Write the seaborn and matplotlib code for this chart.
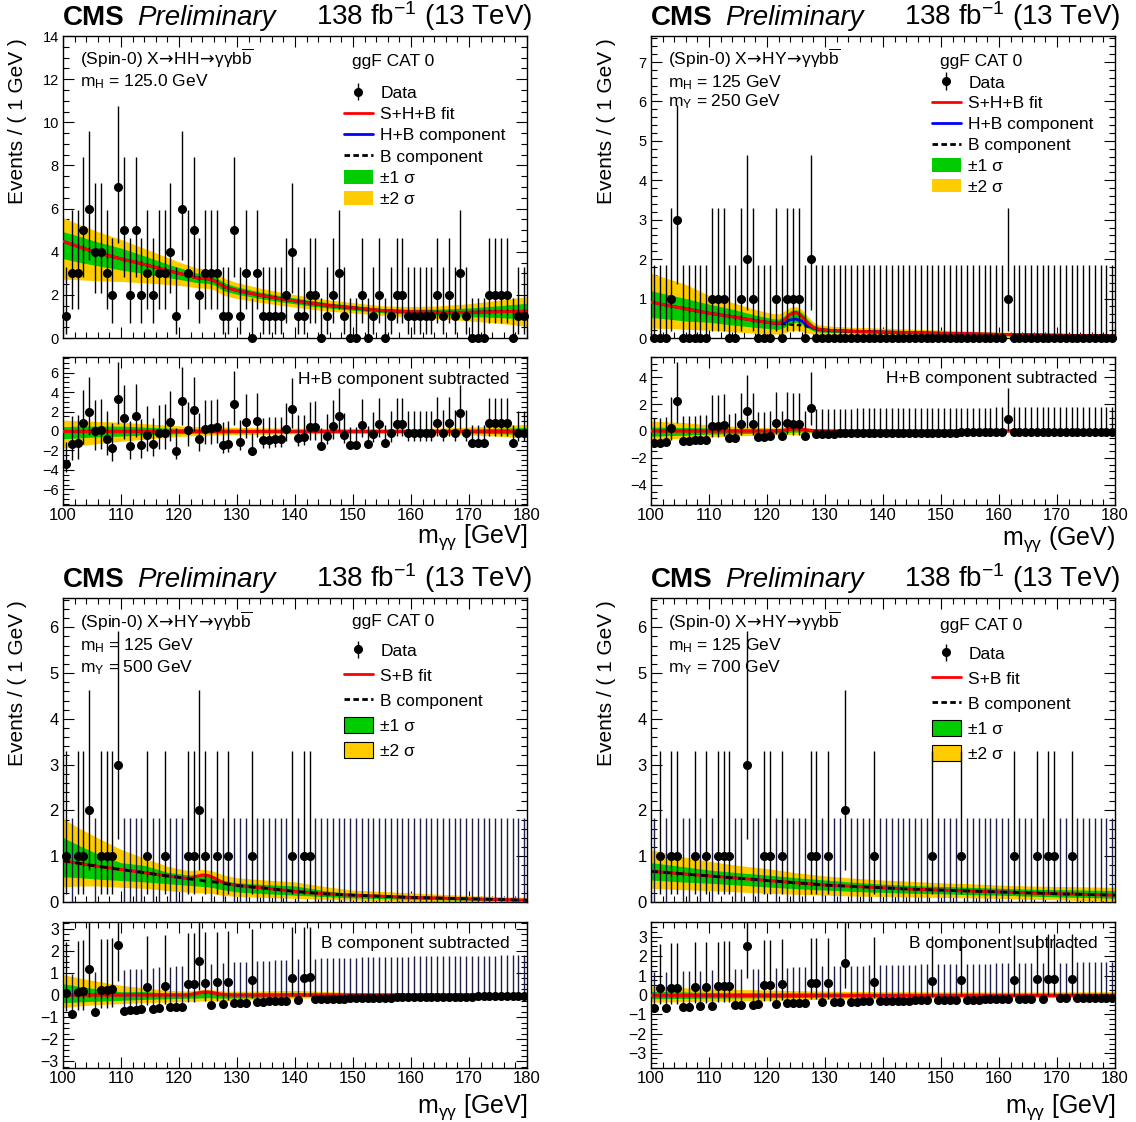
import numpy as np
import matplotlib
matplotlib.use('Agg')
import matplotlib.pyplot as plt
from matplotlib.ticker import MultipleLocator
from matplotlib.lines import Line2D
from matplotlib.patches import Patch
import seaborn as sns

sns.set_style('ticks')
plt.rcParams['font.family'] = ['Liberation Sans', 'DejaVu Sans']
plt.rcParams['mathtext.fontset'] = 'custom'
plt.rcParams['mathtext.rm'] = 'Liberation Sans'
plt.rcParams['mathtext.it'] = 'Liberation Sans:italic'
plt.rcParams['mathtext.bf'] = 'Liberation Sans:bold'
plt.rcParams['mathtext.sf'] = 'DejaVu Sans'
for key in ['text.color', 'axes.labelcolor', 'xtick.color', 'ytick.color', 'axes.edgecolor']:
    plt.rcParams[key] = 'black'

GREEN = '#00cc00'
YELLOW = '#ffcc00'
NAVY = '#1c1e48'
FIG_W, FIG_H = 1136, 1122

# 1 GeV bins between 100 and 180 GeV
mgg = np.arange(100.5, 180.0, 1.0)

# 68% Poisson interval edges for n = 0..7 events
pois_lo = [0.0, 0.173, 0.708, 1.367, 2.086, 2.840, 3.620, 4.419]
pois_hi = [1.841, 3.300, 4.638, 5.918, 7.163, 8.382, 9.584, 10.77]

# ---------------- X -> HH (top left) ----------------
counts_hh = [1, 3, 3, 5, 6, 4, 4, 3, 2, 7, 5, 2, 5, 2, 3, 2, 3, 3, 4, 1,
             6, 3, 5, 2, 3, 3, 3, 1, 1, 5, 1, 3, 0, 3, 1, 1, 1, 1, 2, 4,
             1, 1, 2, 2, 0, 1, 2, 3, 1, 0, 0, 2, 0, 1, 2, 0, 1, 2, 2, 1,
             1, 1, 1, 1, 2, 1, 2, 1, 3, 1, 0, 0, 0, 2, 2, 2, 2, 0, 1, 1]
knots_hh = [100, 103, 106, 110, 114, 118, 121, 123, 125, 126, 127, 128,
            130, 134, 138, 142, 146, 150, 155, 160, 165, 170, 175, 180]
fit_hh = [4.48, 4.2, 3.95, 3.67, 3.41, 3.13, 2.93, 2.79, 2.74, 2.67, 2.5, 2.35,
          2.2, 1.98, 1.8, 1.64, 1.5, 1.4, 1.27, 1.22, 1.19, 1.19, 1.22, 1.24]
hb_hh = fit_hh    # H+B sits under the S+H+B curve
bkg_hh = fit_hh
g_hi_hh = [4.93, 4.7, 4.45, 4.17, 3.81, 3.43, 3.18, 3.01, 2.95, 2.87, 2.7, 2.54,
           2.37, 2.13, 1.94, 1.77, 1.62, 1.51, 1.37, 1.33, 1.34, 1.39, 1.49, 1.61]
g_lo_hh = [3.68, 3.5, 3.35, 3.15, 2.99, 2.81, 2.67, 2.57, 2.53, 2.47, 2.3, 2.16,
           2.03, 1.83, 1.66, 1.51, 1.38, 1.29, 1.17, 1.11, 1.04, 0.99, 0.95, 0.87]
y_hi_hh = [5.58, 5.25, 4.93, 4.57, 4.16, 3.73, 3.43, 3.25, 3.18, 3.10, 2.92, 2.75,
           2.57, 2.31, 2.10, 1.92, 1.76, 1.64, 1.49, 1.46, 1.49, 1.59, 1.75, 1.92]
y_lo_hh = [2.73, 2.7, 2.65, 2.62, 2.56, 2.48, 2.41, 2.33, 2.30, 2.24, 2.08, 1.95,
           1.83, 1.65, 1.50, 1.36, 1.24, 1.16, 1.05, 0.98, 0.89, 0.79, 0.69, 0.54]

# ---------------- X -> HY, mY = 250 (top right) ----------------
counts_y250 = [0, 0, 0, 1, 3, 0, 0, 0, 0, 0, 1, 1, 1, 0, 0, 1, 2, 1, 0, 0,
               0, 1, 0, 1, 1, 1, 0, 2, 0, 0, 0, 0, 0, 0, 0, 0, 0, 0, 0, 0,
               0, 0, 0, 0, 0, 0, 0, 0, 0, 0, 0, 0, 0, 0, 0, 0, 0, 0, 0, 0,
               0, 1, 0, 0, 0, 0, 0, 0, 0, 0, 0, 0, 0, 0, 0, 0, 0, 0, 0, 0]
knots_y250 = [100, 103, 106, 110, 114, 118, 121, 122, 123, 124, 125, 126,
              127, 128, 129, 131, 135, 140, 150, 160, 170, 180]
fit_y250 = [0.91, 0.82, 0.74, 0.63, 0.54, 0.44, 0.38, 0.37, 0.45, 0.6, 0.65, 0.55,
            0.38, 0.27, 0.22, 0.19, 0.17, 0.15, 0.12, 0.09, 0.07, 0.05]
hb_y250 = [0.91, 0.82, 0.74, 0.63, 0.54, 0.44, 0.38, 0.36, 0.40, 0.46, 0.48, 0.43,
           0.32, 0.25, 0.21, 0.19, 0.17, 0.15, 0.12, 0.09, 0.07, 0.05]
bkg_y250 = [0.91, 0.82, 0.74, 0.63, 0.54, 0.44, 0.38, 0.36, 0.35, 0.34, 0.33, 0.32,
            0.29, 0.25, 0.21, 0.19, 0.17, 0.15, 0.12, 0.09, 0.07, 0.05]
y_hi_y250 = [1.64, 1.5, 1.36, 1.08, 0.9, 0.72, 0.62, 0.61, 0.68, 0.78, 0.8, 0.72,
             0.55, 0.4, 0.33, 0.3, 0.27, 0.25, 0.2, 0.15, 0.12, 0.1]
g_hi_y250 = [1.2, 1.1, 1.0, 0.86, 0.73, 0.58, 0.49, 0.48, 0.56, 0.69, 0.72, 0.64,
             0.47, 0.33, 0.27, 0.24, 0.22, 0.2, 0.16, 0.12, 0.09, 0.07]
g_lo_y250 = [0.52, 0.48, 0.43, 0.4, 0.33, 0.27, 0.23, 0.22, 0.27, 0.37, 0.4, 0.35,
             0.25, 0.18, 0.15, 0.14, 0.13, 0.12, 0.09, 0.06, 0.05, 0.03]
y_lo_y250 = [0.25, 0.24, 0.22, 0.2, 0.16, 0.12, 0.1, 0.1, 0.13, 0.18, 0.2, 0.17,
             0.12, 0.1, 0.09, 0.09, 0.08, 0.08, 0.05, 0.03, 0.02, 0.01]

# ---------------- X -> HY, mY = 500 (bottom left) ----------------
counts_y500 = [1, 0, 1, 1, 2, 0, 1, 1, 1, 3, 0, 0, 0, 0, 1, 0, 0, 1, 0, 0,
               0, 1, 1, 2, 1, 0, 1, 0, 1, 0, 0, 0, 1, 0, 0, 0, 0, 0, 0, 1,
               0, 1, 1, 0, 0, 0, 0, 0, 0, 0, 0, 0, 0, 0, 0, 0, 0, 0, 0, 0,
               0, 0, 0, 0, 0, 0, 0, 0, 0, 0, 0, 0, 0, 0, 0, 0, 0, 0, 0, 0]
knots_y500 = [100, 103, 106, 110, 114, 118, 121, 122, 123, 124, 125, 126,
              127, 128, 130, 135, 140, 145, 150, 160, 170, 180]
bkg_y500 = [0.9, 0.84, 0.78, 0.71, 0.64, 0.57, 0.52, 0.5, 0.49, 0.47, 0.45, 0.44,
            0.42, 0.4, 0.36, 0.3, 0.23, 0.18, 0.15, 0.1, 0.07, 0.04]
fit_y500 = [0.9, 0.84, 0.78, 0.71, 0.64, 0.57, 0.52, 0.52, 0.56, 0.59, 0.58, 0.53,
            0.46, 0.41, 0.36, 0.3, 0.23, 0.18, 0.15, 0.1, 0.07, 0.04]
y_hi_y500 = [1.82, 1.6, 1.4, 1.15, 0.96, 0.78, 0.7, 0.69, 0.7, 0.71, 0.7, 0.67,
             0.62, 0.58, 0.53, 0.48, 0.44, 0.34, 0.26, 0.2, 0.14, 0.1]
g_hi_y500 = [1.41, 1.22, 1.05, 0.86, 0.8, 0.65, 0.6, 0.59, 0.6, 0.6, 0.59, 0.56,
             0.5, 0.46, 0.42, 0.38, 0.35, 0.25, 0.18, 0.14, 0.1, 0.07]
g_lo_y500 = [0.55, 0.53, 0.5, 0.47, 0.44, 0.4, 0.37, 0.36, 0.35, 0.34, 0.33, 0.31,
             0.28, 0.26, 0.22, 0.18, 0.15, 0.12, 0.09, 0.06, 0.04, 0.02]
y_lo_y500 = [0.33, 0.35, 0.35, 0.32, 0.3, 0.25, 0.22, 0.21, 0.2, 0.2, 0.19, 0.18,
             0.16, 0.14, 0.12, 0.1, 0.08, 0.06, 0.04, 0.02, 0.01, 0.0]

# ---------------- X -> HY, mY = 700 (bottom right) ----------------
counts_y700 = [0, 1, 0, 1, 1, 0, 0, 1, 0, 1, 0, 1, 1, 1, 0, 0, 3, 0, 0, 1,
               1, 0, 1, 0, 0, 0, 0, 1, 1, 0, 1, 0, 0, 2, 0, 0, 0, 0, 1, 0,
               0, 0, 0, 0, 0, 0, 0, 0, 1, 0, 0, 0, 0, 1, 0, 0, 0, 0, 0, 0,
               0, 0, 1, 0, 0, 0, 1, 0, 1, 1, 0, 0, 1, 0, 0, 0, 0, 0, 0, 0]
knots_y700 = [100, 105, 110, 115, 120, 125, 130, 135, 140, 145, 150, 155, 160,
              165, 170, 175, 180]
bkg_y700 = [0.67, 0.62, 0.57, 0.52, 0.47, 0.42, 0.37, 0.34, 0.31, 0.28, 0.26,
            0.24, 0.22, 0.2, 0.18, 0.165, 0.15]
fit_y700 = bkg_y700
y_hi_y700 = [1.14, 1.0, 0.89, 0.8, 0.73, 0.64, 0.57, 0.52, 0.48, 0.45, 0.42,
             0.4, 0.37, 0.35, 0.34, 0.33, 0.32]
g_hi_y700 = [0.86, 0.78, 0.7, 0.64, 0.59, 0.53, 0.48, 0.43, 0.39, 0.36, 0.34,
             0.32, 0.3, 0.28, 0.27, 0.26, 0.25]
g_lo_y700 = [0.48, 0.44, 0.41, 0.37, 0.33, 0.29, 0.26, 0.23, 0.21, 0.19, 0.18,
             0.16, 0.15, 0.13, 0.11, 0.1, 0.08]
y_lo_y700 = [0.3, 0.27, 0.25, 0.22, 0.19, 0.17, 0.15, 0.13, 0.12, 0.11, 0.1,
             0.09, 0.08, 0.06, 0.05, 0.03, 0.02]


fig = plt.figure(figsize=(FIG_W / 100, FIG_H / 100), dpi=100)


def add_ax(left, top, bottom):
    return fig.add_axes([left / FIG_W, 1 - bottom / FIG_H, 464 / FIG_W, (bottom - top) / FIG_H])


def style_ax(ax, ylim, ymaj, ymin, ysize, xlabels):
    ax.set_xlim(100, 180)
    ax.set_ylim(*ylim)
    ax.xaxis.set_major_locator(MultipleLocator(10))
    ax.xaxis.set_minor_locator(MultipleLocator(2))
    ax.yaxis.set_major_locator(MultipleLocator(ymaj))
    ax.yaxis.set_minor_locator(MultipleLocator(ymin))
    ax.tick_params(which='both', direction='in', top=True, right=True, width=0.8, colors='black')
    ax.tick_params(which='major', length=8)
    ax.tick_params(which='minor', length=4.5)
    ax.tick_params(axis='y', labelsize=ysize, pad=3)
    ax.tick_params(axis='x', labelsize=12, labelbottom=xlabels, pad=2)
    ax.set_xlabel('')
    ax.set_ylabel('')
    for s in ax.spines.values():
        s.set_linewidth(1.0)
        s.set_color('black')


def draw_data(ax, y, lo, hi, n, zero_col, zero_dots, clip):
    nz = n > 0
    h = ax.errorbar(mgg[nz], y[nz], yerr=[lo[nz], hi[nz]], fmt='o', ms=5.5, color='black',
                    ecolor='black', elinewidth=1.0, capsize=0, clip_on=clip, zorder=6)
    ax.errorbar(mgg[~nz], y[~nz], yerr=[lo[~nz], hi[~nz]], fmt='o' if zero_dots else 'none',
                ms=5.5, color='black', ecolor=zero_col, elinewidth=1.0, capsize=0,
                clip_on=clip, zorder=5)
    return h


def draw_panel(left, top, counts, knots, fit, hb, bkg, g_lo, g_hi, y_lo, y_hi, p):
    main_top, main_bot, low_top, low_bot = top
    ax = add_ax(left, main_top, main_bot)
    rax = add_ax(left, low_top, low_bot)

    knots = np.asarray(knots, float)
    fit, bkg = np.asarray(fit), np.asarray(bkg)
    hb = None if hb is None else np.asarray(hb)
    sub = hb if hb is not None else bkg

    # main pad: bands, fit curves, data
    ax.fill_between(knots, y_lo, y_hi, color=YELLOW, lw=0, zorder=1)
    ax.fill_between(knots, g_lo, g_hi, color=GREEN, lw=0, zorder=2)
    if hb is not None:
        sns.lineplot(x=knots, y=bkg, ax=ax, color='black', lw=1.6, linestyle=(0, (2, 1.5)), zorder=3)
        sns.lineplot(x=knots, y=hb, ax=ax, color='blue', lw=2, zorder=3)
        sns.lineplot(x=knots, y=fit, ax=ax, color='red', lw=2.2, zorder=4)
    else:
        sns.lineplot(x=knots, y=fit, ax=ax, color='red', lw=2.2, zorder=3)
        sns.lineplot(x=knots, y=bkg, ax=ax, color='black', lw=2, linestyle=(0, (2.5, 2)), zorder=4)

    n = np.asarray(counts)
    lo = n - np.take(pois_lo, n)
    hi = np.take(pois_hi, n) - n
    h_data = draw_data(ax, n.astype(float), lo, hi, n, p['zero_col'], p['zero_dots'], False)

    # lower pad: component subtracted
    resid = n - np.interp(mgg, knots, sub)
    rax.fill_between(knots, np.asarray(y_lo) - sub, np.asarray(y_hi) - sub, color=YELLOW, lw=0, zorder=1)
    rax.fill_between(knots, np.asarray(g_lo) - sub, np.asarray(g_hi) - sub, color=GREEN, lw=0, zorder=2)
    sns.lineplot(x=knots, y=fit - sub, ax=rax, color='red', lw=2.5, zorder=3)
    draw_data(rax, resid, lo, hi, n, p['zero_col'], True, True)

    style_ax(ax, p['ylim'], p['ymaj'], p['ymin'], p['ysize'], False)
    style_ax(rax, p['rlim'], p['rmaj'], p['rmin'], p['rsize'], True)

    # texts
    arrow = r'$\!\mathsf{\rightarrow}\!$'
    ax.text(0.037, p['t_y'][0], '(Spin-0) X' + arrow + p['decay'] + arrow + 'γγb' + r'$\overline{\mathrm{b}}$',
            transform=ax.transAxes, fontsize=12.5, va='center', ha='left')
    for ty, txt in zip(p['t_y'][1:], p['masses']):
        ax.text(0.037, ty, txt, transform=ax.transAxes, fontsize=12.5, va='center', ha='left')
    ax.text(0.623, p['cat_y'], 'ggF CAT 0', transform=ax.transAxes, fontsize=12.5, va='center', ha='left')

    edge = 'black' if hb is None else 'none'
    handles = [h_data, Line2D([], [], color='red', lw=2)]
    labels = ['Data', p['fit_label']]
    if hb is not None:
        handles.append(Line2D([], [], color='blue', lw=2))
        labels.append('H+B component')
    handles += [Line2D([], [], color='black', lw=2, linestyle=(0, (2, 1.2))),
                Patch(facecolor=GREEN, edgecolor=edge, lw=0.8),
                Patch(facecolor=YELLOW, edgecolor=edge, lw=0.8)]
    labels += ['B component', '±1 σ', '±2 σ']
    ax.legend(handles, labels, loc='upper left', bbox_to_anchor=(0.605, p['leg_y']),
              frameon=False, fontsize=12.5, handlelength=1.7, handleheight=p['hh'],
              handletextpad=0.4, labelspacing=p['leg_sp'], borderpad=0, borderaxespad=0)

    rax.text(0.963, p['r_y'], p['sub_label'], transform=rax.transAxes, fontsize=12.5,
             ha='right', va='center')

    # header, axis titles
    fy = lambda px: 1 - px / FIG_H
    fig.text(left / FIG_W, fy(main_top - 11), 'CMS', fontsize=20, fontweight='bold', va='baseline')
    fig.text((left + 74) / FIG_W, fy(main_top - 11), 'Preliminary', fontsize=20, style='italic', va='baseline')
    fig.text((left + 469) / FIG_W, fy(main_top - 11), r'138 fb$^{\mathrm{-1}}$ (13 TeV)', fontsize=20,
             ha='right', va='baseline')
    fig.text((left - 45) / FIG_W, fy(main_top + 2), 'Events / ( 1 GeV )', fontsize=15,
             rotation=90, ha='center', va='top')
    fig.text((left + 464) / FIG_W, fy(p['xl_base']), r'm$_{\mathrm{γγ}}$ ' + p['unit'], fontsize=18,
             ha='right', va='baseline')


TOP_ROW = (36, 338, 357, 505)
BOT_ROW = (598, 902, 922, 1068)

draw_panel(63, TOP_ROW, counts_hh, knots_hh, fit_hh, hb_hh, bkg_hh,
           g_lo_hh, g_hi_hh, y_lo_hh, y_hi_hh,
           dict(zero_col='black', zero_dots=True, ylim=(0, 14), ymaj=2, ymin=0.5, ysize=10.5,
                rlim=(-7.6, 7.6), rmaj=2, rmin=0.5, rsize=10.5, decay='HH',
                masses=[r'm$_{\mathrm{H}}$ = 125.0 GeV'], t_y=[0.927, 0.848], cat_y=0.914,
                fit_label='S+H+B fit', leg_y=0.837, leg_sp=0.3, hh=0.85, r_y=0.851,
                sub_label='H+B component subtracted', xl_base=543, unit='[GeV]'))

draw_panel(651, TOP_ROW, counts_y250, knots_y250, fit_y250, hb_y250, bkg_y250,
           g_lo_y250, g_hi_y250, y_lo_y250, y_hi_y250,
           dict(zero_col='black', zero_dots=True, ylim=(0, 7.66), ymaj=1, ymin=0.2, ysize=10.5,
                rlim=(-5.5, 5.5), rmaj=2, rmin=0.5, rsize=10.5, decay='HY',
                masses=[r'm$_{\mathrm{H}}$ = 125 GeV', r'm$_{\mathrm{Y}}$ = 250 GeV'],
                t_y=[0.927, 0.844, 0.781], cat_y=0.914,
                fit_label='S+H+B fit', leg_y=0.872, leg_sp=0.28, hh=0.85, r_y=0.858,
                sub_label='H+B component subtracted', xl_base=545, unit='(GeV)'))

draw_panel(63, BOT_ROW, counts_y500, knots_y500, fit_y500, None, bkg_y500,
           g_lo_y500, g_hi_y500, y_lo_y500, y_hi_y500,
           dict(zero_col=NAVY, zero_dots=False, ylim=(0, 6.64), ymaj=1, ymin=0.2, ysize=12,
                rlim=(-3.3, 3.3), rmaj=1, rmin=0.25, rsize=11.5, decay='HY',
                masses=[r'm$_{\mathrm{H}}$ = 125 GeV', r'm$_{\mathrm{Y}}$ = 500 GeV'],
                t_y=[0.924, 0.842, 0.770], cat_y=0.924,
                fit_label='S+B fit', leg_y=0.854, leg_sp=0.46, hh=1.05, r_y=0.856,
                sub_label='B component subtracted', xl_base=1113, unit='[GeV]'))

draw_panel(651, BOT_ROW, counts_y700, knots_y700, fit_y700, None, bkg_y700,
           g_lo_y700, g_hi_y700, y_lo_y700, y_hi_y700,
           dict(zero_col=NAVY, zero_dots=False, ylim=(0, 6.64), ymaj=1, ymin=0.2, ysize=12,
                rlim=(-3.75, 3.75), rmaj=1, rmin=0.25, rsize=11.5, decay='HY',
                masses=[r'm$_{\mathrm{H}}$ = 125 GeV', r'm$_{\mathrm{Y}}$ = 700 GeV'],
                t_y=[0.924, 0.842, 0.770], cat_y=0.911,
                fit_label='S+B fit', leg_y=0.844, leg_sp=0.46, hh=1.05, r_y=0.856,
                sub_label='B component subtracted', xl_base=1113, unit='[GeV]'))

fig.savefig('out.png', dpi=100)
